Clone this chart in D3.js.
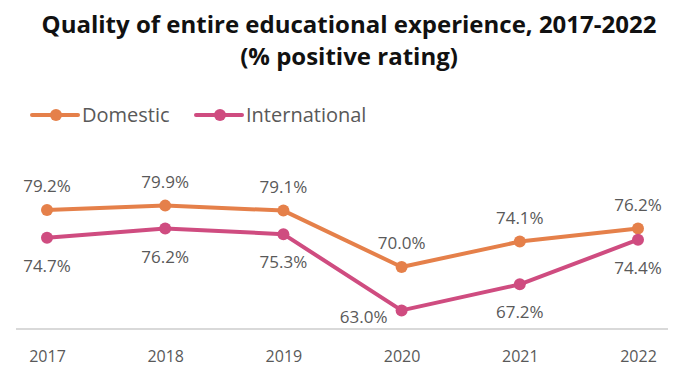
<!DOCTYPE html>
<html>
<head>
<meta charset="utf-8">
<script src="https://cdn.jsdelivr.net/npm/d3@7"></script>
<style>
  body { margin: 0; background: #fff; }
  svg { display: block; }
</style>
</head>
<body>
<svg id="chart" width="678" height="384"></svg>
<script>
// chart data
var years = ["2017", "2018", "2019", "2020", "2021", "2022"];
var domestic = [79.2, 79.9, 79.1, 70.0, 74.1, 76.2];
var international = [74.7, 76.2, 75.3, 63.0, 67.2, 74.4];
var seriesNames = ["Domestic", "International"];
var seriesColors = ["#E5804A", "#CF4C80"];

var titleLines = ["Quality of entire educational experience, 2017-2022", "(% positive rating)"];

var svg = d3.select("#chart");
var textColor = "#595959";

var x = d3.scalePoint()
	.domain(years)
	.range([47, 638]);

var y = d3.scaleLinear()
	.domain([60, 85])
	.range([329, 174]);

// title
svg.selectAll(".title")
	.data(titleLines)
	.enter().append("text")
	.attr("class", "title")
	.attr("x", 349)
	.attr("y", function(d, i){ return 33 + i * 32; })
	.attr("text-anchor", "middle")
	.attr("font-family", "'Open Sans', sans-serif")
	.attr("font-weight", "bold")
	.attr("font-size", 24)
	.attr("fill", "#111")
	.text(function(d){ return d; });

// baseline
svg.append("line")
	.attr("x1", 16)
	.attr("x2", 668)
	.attr("y1", y(60))
	.attr("y2", y(60))
	.attr("stroke", "#d9d9d9")
	.attr("stroke-width", 2);

// x axis labels
var xAxis = d3.axisBottom(x).tickSize(0).tickPadding(16);
var gx = svg.append("g")
	.attr("transform", "translate(0," + (y(60) + 6) + ")")
	.call(xAxis);
gx.select(".domain").remove();
gx.selectAll("text")
	.attr("font-family", "'Open Sans', sans-serif")
	.attr("font-size", 16)
	.attr("fill", textColor);

var line = d3.line()
	.x(function(d, i){ return x(years[i]); })
	.y(function(d){ return y(d); });

var allSeries = [domestic, international];

allSeries.forEach(function(values, s){
	svg.append("path")
		.datum(values)
		.attr("d", line)
		.attr("fill", "none")
		.attr("stroke", seriesColors[s])
		.attr("stroke-width", 4)
		.attr("stroke-linejoin", "round");

	svg.selectAll(".dot" + s)
		.data(values)
		.enter().append("circle")
		.attr("cx", function(d, i){ return x(years[i]); })
		.attr("cy", function(d){ return y(d); })
		.attr("r", 6)
		.attr("fill", seriesColors[s]);

	// labels: domestic above, international below;
	// labels too close to the baseline go to the left of the point
	var tooLow = function(d){ return s === 1 && y(d) + 34 > y(60) - 4; };
	svg.selectAll(".lbl" + s)
		.data(values)
		.enter().append("text")
		.attr("x", function(d, i){ return tooLow(d) ? x(years[i]) - 38 : x(years[i]); })
		.attr("y", function(d){
			if (s === 0) return y(d) - 18;
			return tooLow(d) ? y(d) + 13 : y(d) + 34;
		})
		.attr("text-anchor", "middle")
		.attr("font-family", "'Open Sans', sans-serif")
		.attr("font-size", 17)
		.attr("fill", textColor)
		.text(function(d){ return d.toFixed(1) + "%"; });
});

// legend
var legendX = [32, 196];
var legend = svg.selectAll(".legend")
	.data(seriesNames)
	.enter().append("g")
	.attr("transform", function(d, i){ return "translate(" + legendX[i] + ",115)"; });

legend.append("line")
	.attr("x1", 0)
	.attr("x2", 46)
	.attr("stroke", function(d, i){ return seriesColors[i]; })
	.attr("stroke-width", 4)
	.attr("stroke-linecap", "round");

legend.append("circle")
	.attr("cx", 24)
	.attr("r", 6)
	.attr("fill", function(d, i){ return seriesColors[i]; });

legend.append("text")
	.attr("x", 50)
	.attr("y", 7)
	.attr("font-family", "'Open Sans', sans-serif")
	.attr("font-size", 20)
	.attr("fill", textColor)
	.text(function(d){ return d; });
</script>
</body>
</html>
